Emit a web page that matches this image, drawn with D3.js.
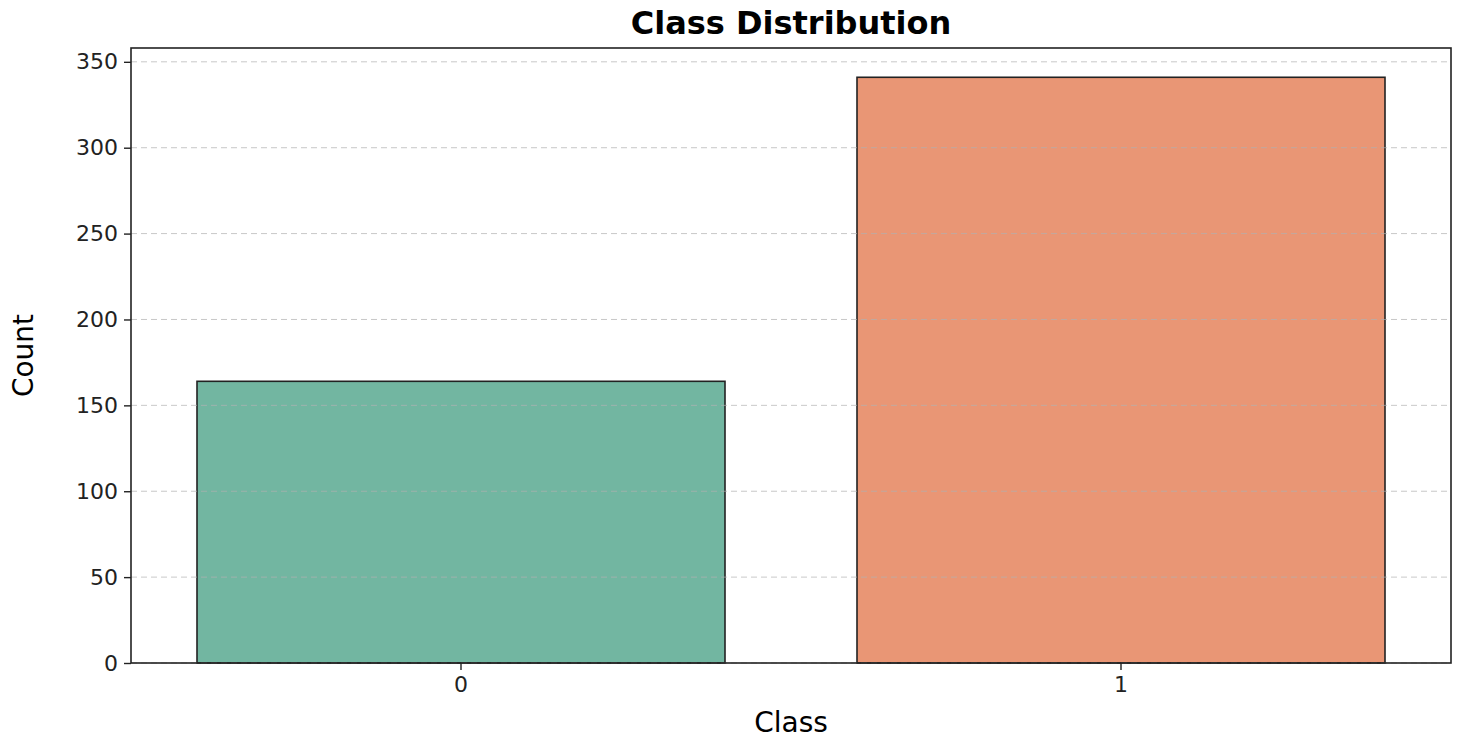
<!DOCTYPE html>
<html>
<head>
<meta charset="utf-8">
<script src="https://cdn.jsdelivr.net/npm/d3@7"></script>
<style>body{margin:0;background:#fff}</style>
</head>
<body>
<svg width="1477" height="740"></svg>
<script>
const classes = ["0", "1"];
const counts = [164, 341];
const colors = ["#72b6a1", "#e99675"];
const yTicks = [0, 50, 100, 150, 200, 250, 300, 350];

let svg = d3.select("svg"),
  margin = {top: 48, right: 26, bottom: 77, left: 131},
  width = 1477 - margin.left - margin.right,
  height = 740 - margin.top - margin.bottom;

let g = svg.append("g").attr("transform", `translate(${margin.left},${margin.top})`);

let x = d3.scaleBand().domain(classes).range([0, width]).paddingInner(0.2).paddingOuter(0.1);
let y = d3.scaleLinear().domain([0, d3.max(counts) * 1.05]).range([height, 0]);

g.selectAll("rect.bar")
  .data(counts)
  .enter().append("rect")
  .attr("class", "bar")
  .attr("x", (d, i) => x(classes[i]))
  .attr("y", d => y(d))
  .attr("width", x.bandwidth())
  .attr("height", d => height - y(d))
  .attr("fill", (d, i) => colors[i])
  .attr("stroke", "#222")
  .attr("stroke-width", 1.6);

// grid drawn over bars
g.selectAll("line.grid")
  .data(yTicks)
  .enter().append("line")
  .attr("x1", 0).attr("x2", width)
  .attr("y1", d => y(d)).attr("y2", d => y(d))
  .attr("stroke", "#b0b0b0").attr("stroke-opacity", 0.7)
  .attr("stroke-dasharray", "6,4");

let yAxis = g.append("g").call(d3.axisLeft(y).tickValues(yTicks).tickSize(7).tickPadding(6));
let xAxis = g.append("g").attr("transform", `translate(0,${height})`)
  .call(d3.axisBottom(x).tickSize(7).tickPadding(6));
[yAxis, xAxis].forEach(a => {
  a.selectAll("text").style("font", "22px 'DejaVu Sans'").attr("fill", "#222");
  a.selectAll("line").attr("stroke", "#222").attr("stroke-width", 1.4);
  a.select(".domain").remove();
});

g.append("rect").attr("width", width).attr("height", height)
  .attr("fill", "none").attr("stroke", "#222").attr("stroke-width", 1.6);

svg.append("text").attr("x", margin.left + width / 2).attr("y", 34)
  .attr("text-anchor", "middle").style("font", "bold 32px 'DejaVu Sans'").text("Class Distribution");
svg.append("text").attr("x", margin.left + width / 2).attr("y", 732)
  .attr("text-anchor", "middle").style("font", "28px 'DejaVu Sans'").text("Class");
svg.append("text").attr("transform", `translate(33,${margin.top + height / 2}) rotate(-90)`)
  .attr("text-anchor", "middle").style("font", "28px 'DejaVu Sans'").text("Count");
</script>
</body>
</html>
